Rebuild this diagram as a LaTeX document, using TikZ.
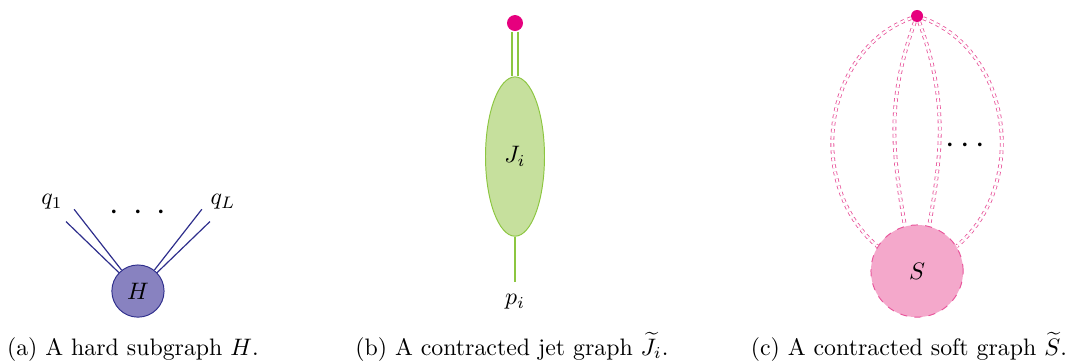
\documentclass[tikz,border=0pt]{standalone}
\usepackage{amsmath}
\usetikzlibrary{shapes.geometric,calc}

\definecolor{hardfill}{RGB}{136,130,192}
\definecolor{hardline}{RGB}{46,46,140}
\definecolor{jetfill}{RGB}{198,224,157}
\definecolor{jetline}{RGB}{140,198,64}
\definecolor{softfill}{RGB}{244,168,203}
\definecolor{softline}{RGB}{232,85,155}
\definecolor{vtxcol}{RGB}{230,0,126}

\begin{document}
\begin{tikzpicture}[
        every node/.style={align=center},
        hardblob/.style={circle, draw=hardline, fill=hardfill,
                         minimum size=0.77cm, inner sep=0pt},
        jetblob/.style={ellipse, draw=jetline, fill=jetfill,
                        minimum width=0.87cm, minimum height=2.35cm, inner sep=0pt},
        softblob/.style={circle, draw=softline, fill=softfill, dashed,
                         minimum size=1.36cm, inner sep=0pt},
        vertex/.style={circle, fill=vtxcol, inner sep=0pt},
        hardleg/.style={draw=hardline, line width=0.5pt},
        jetleg/.style={draw=jetline, line width=0.5pt},
        softleg/.style={draw=softline, double=white, double distance=0.9pt,
                        line width=0.35pt, dash pattern=on 1.5pt off 1.5pt},
        caption/.style={anchor=base},
    ]
    \useasboundingbox (0,0) rectangle (15.9,5.34);

    % --- (a) hard subgraph ------------------------------------------------
    \node[hardblob] (H) at (2.035,1.047) {$H$};
    \coordinate (qa) at ($(H)+(136:1.475)$);
    \coordinate (qb) at ($(H)+(128:1.53)$);
    \coordinate (qc) at ($(H)+(52:1.53)$);
    \coordinate (qd) at ($(H)+(44:1.475)$);
    \foreach \q in {qa,qb,qc,qd}
        \draw[hardleg] (H) -- (\q);
    \node (q1) at (0.767,2.36) {$q_1$};
    \node (qL) at (3.29,2.36) {$q_L$};
    \node (adots) at (2.035,2.198)
        {\Large$\cdot$\hspace{6pt}$\cdot$\hspace{6pt}$\cdot$};
    \node[caption] (capa) at (1.96,0.10) {(a) A hard subgraph $H$.};

    % --- (b) contracted jet graph -----------------------------------------
    \node[vertex, minimum size=0.236cm] (jv) at (7.596,5.0) {};
    \node[jetblob] (J) at (7.596,3.031) {$J_i$};
    \coordinate (jend) at (7.596,1.18);
    \draw[jetleg, double=white, double distance=2pt] (jv) -- (J);
    \draw[jetleg] (J) -- (jend);
    \node (pi) at (7.596,0.885) {$p_i$};
    \node[caption] (capb) at (7.55,0.10) {(b) A contracted jet graph $\widetilde{J}_i$.};

    % --- (c) contracted soft graph ----------------------------------------
    \node[softblob] (S) at (13.526,1.342) {$S$};
    \node[vertex, minimum size=0.177cm] (sv) at (13.526,5.104) {};
    \draw[softleg] (sv) to[out=200, in=140, looseness=1.05] (S.148);
    \draw[softleg] (sv) to[out=250, in=100] (S.105);
    \draw[softleg] (sv) to[out=290, in=80] (S.75);
    \draw[softleg] (sv) to[out=-20, in=40, looseness=1.05] (S.32);
    \node (sdots) at (14.278,3.19) {\Large$\cdots$};
    \node[caption, anchor=base east] (capc) at (15.86,0.10)
        {(c) A contracted soft graph $\widetilde{S}$.};

\end{tikzpicture}
\end{document}
